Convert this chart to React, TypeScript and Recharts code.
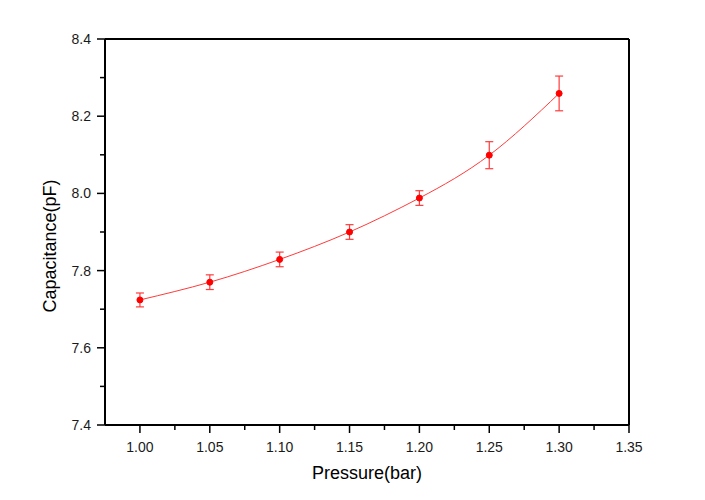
import React from 'react';
import { ComposedChart, Line, XAxis, YAxis, ErrorBar, ReferenceLine, Label } from 'recharts';

const pressure = [1.0, 1.05, 1.1, 1.15, 1.2, 1.25, 1.3];
const capacitance = [7.724, 7.77, 7.829, 7.9, 7.988, 8.099, 8.259];
const capError = [0.018, 0.019, 0.019, 0.019, 0.019, 0.035, 0.045];

const xMajorTicks = [1.0, 1.05, 1.1, 1.15, 1.2, 1.25, 1.3, 1.35];
const xTickLabels = ['1.00', '1.05', '1.10', '1.15', '1.20', '1.25', '1.30', '1.35'];
const xMinorTicks = [1.025, 1.075, 1.125, 1.175, 1.225, 1.275, 1.325];

const yMajorTicks = [7.4, 7.6, 7.8, 8.0, 8.2, 8.4];
const yTickLabels = ['7.4', '7.6', '7.8', '8.0', '8.2', '8.4'];
const yMinorTicks = [7.5, 7.7, 7.9, 8.1, 8.3];

const data = pressure.map((p, i) => ({ p, cap: capacitance[i], err: capError[i] }));

const FONT = '"Liberation Sans", Arial, sans-serif';

const findIdx = (arr: number[], v: number) => arr.findIndex((a) => Math.abs(a - v) < 1e-6);

const XTick = (props: any) => {
  const { x, y, payload } = props;
  const i = findIdx(xMajorTicks, payload.value);
  const major = i >= 0;
  return (
    <g>
      <line x1={x} x2={x} y1={y} y2={y + (major ? 8 : 5)} stroke="#000" strokeWidth={1.5} />
      {major && (
        <text x={x} y={y + 27} textAnchor="middle" fontSize={14} fontFamily={FONT} fill="#1a1a1a">
          {xTickLabels[i]}
        </text>
      )}
    </g>
  );
};

const YTick = (props: any) => {
  const { x, y, payload } = props;
  const i = findIdx(yMajorTicks, payload.value);
  const major = i >= 0;
  return (
    <g>
      <line x1={x} x2={x - (major ? 8 : 5)} y1={y} y2={y} stroke="#000" strokeWidth={1.5} />
      {major && (
        <text x={x - 14} y={y + 5} textAnchor="end" fontSize={14} fontFamily={FONT} fill="#1a1a1a">
          {yTickLabels[i]}
        </text>
      )}
    </g>
  );
};

const YLabel = (props: any) => {
  const vb = props.viewBox || {};
  const cx = (vb.x ?? 0) + 56;
  const cy = (vb.y ?? 0) + (vb.height ?? 0) / 2 + 14;
  return (
    <text
      x={cx}
      y={cy}
      transform={`rotate(-90, ${cx}, ${cy})`}
      textAnchor="middle"
      fontSize={18}
      fontFamily={FONT}
      fill="#000"
    >
      Capacitance(pF)
    </text>
  );
};

export default function App() {
  return (
    <div style={{ position: 'absolute', left: 0, top: 0, width: 705, height: 500, background: '#fff' }}>
      <ComposedChart width={705} height={500} data={data} margin={{ top: 39, right: 76, bottom: 0, left: 0 }}>
        <XAxis
          dataKey="p"
          type="number"
          domain={[0.975, 1.35]}
          ticks={[...xMajorTicks, ...xMinorTicks].sort((a, b) => a - b)}
          interval={0}
          tickSize={0}
          tickMargin={0}
          tickLine={false}
          tick={<XTick />}
          axisLine={{ stroke: '#000', strokeWidth: 2 }}
          height={75}
          allowDataOverflow
        >
          <Label
            value="Pressure(bar)"
            position="insideBottom"
            offset={21}
            style={{ fontSize: 18, fontFamily: FONT, fill: '#000' }}
          />
        </XAxis>
        <YAxis
          type="number"
          domain={[7.4, 8.4]}
          ticks={[...yMajorTicks, ...yMinorTicks].sort((a, b) => a - b)}
          interval={0}
          tickSize={0}
          tickMargin={0}
          tickLine={false}
          tick={<YTick />}
          axisLine={{ stroke: '#000', strokeWidth: 2 }}
          width={105}
          allowDataOverflow
        >
          <Label content={<YLabel />} />
        </YAxis>
        <ReferenceLine y={8.4} stroke="#000" strokeWidth={2} />
        <ReferenceLine x={1.35} stroke="#000" strokeWidth={2} />
        <Line
          type="natural"
          dataKey="cap"
          stroke="#ff3b3b"
          strokeWidth={1}
          dot={{ r: 3, fill: '#ff0000', stroke: '#ff0000', strokeWidth: 1 }}
          activeDot={false}
          isAnimationActive={false}
        >
          <ErrorBar dataKey="err" width={4} stroke="#ff3b3b" strokeWidth={1.2} direction="y" />
        </Line>
      </ComposedChart>
    </div>
  );
}
